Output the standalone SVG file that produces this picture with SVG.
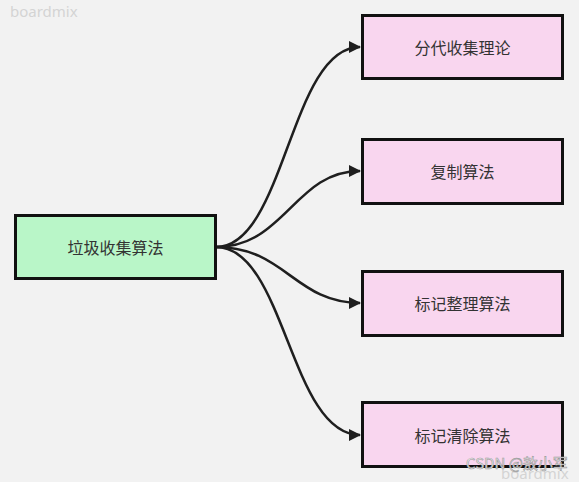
<svg xmlns="http://www.w3.org/2000/svg" width="579" height="482" viewBox="0 0 579 482">
<defs>
<marker id="arrow" viewBox="0 0 12 12" refX="11" refY="6" markerWidth="12" markerHeight="12" markerUnits="userSpaceOnUse" orient="auto">
<path d="M0,0 L12,6 L0,12 z" fill="#1f1f1f"/>
</marker>
<style>
.node rect{stroke:#111;stroke-width:3}
.green rect{fill:#b9f6c8}
.pink rect{fill:#f9d6ef}
.node text{font-family:"Noto Sans CJK SC","Noto Sans",sans-serif;font-size:16px;fill:#333;text-anchor:middle;dominant-baseline:central}
.edge{fill:none;stroke:#1f1f1f;stroke-width:2.5;marker-end:url(#arrow)}
.wm{font-family:"Noto Sans","Noto Sans CJK SC",sans-serif;font-size:15px;fill:#d4d4d4}
</style>
</defs>
<rect width="579" height="482" fill="#f2f2f2"/>
<text class="wm" x="10" y="17">boardmix</text>
<g id="edges">
<path class="edge" d="M216,247 C285,247 290,47 360,47"/>
<path class="edge" d="M216,247 C285,247 295,171 360,171"/>
<path class="edge" d="M216,247 C285,247 295,303 360,303"/>
<path class="edge" d="M216,247 C285,247 290,435 360,435"/>
</g>
<g id="n0" class="node green"><rect x="15.5" y="215.5" width="200" height="63"/><text x="115.5" y="247">垃圾收集算法</text></g>
<g id="n1" class="node pink"><rect x="362.5" y="15.5" width="200" height="63"/><text x="462.5" y="47">分代收集理论</text></g>
<g id="n2" class="node pink"><rect x="362.5" y="139.5" width="200" height="64"/><text x="462.5" y="171">复制算法</text></g>
<g id="n3" class="node pink"><rect x="362.5" y="271.5" width="200" height="64"/><text x="462.5" y="303">标记整理算法</text></g>
<g id="n4" class="node pink"><rect x="362.5" y="402.5" width="200" height="64"/><text x="462.5" y="435">标记清除算法</text></g>
<text class="wm" x="501" y="479">boardmix</text>
<text x="466" y="469" font-family="Noto Sans CJK SC,sans-serif" font-size="15" fill="#eeeeee" stroke="#9a9a9a" stroke-width="0.6">CSDN @敖小军</text>
</svg>
